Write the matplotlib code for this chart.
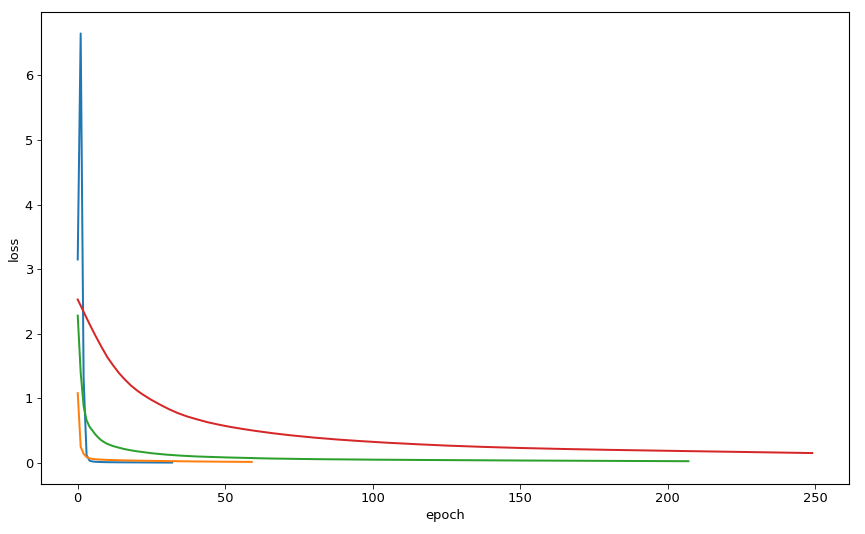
import matplotlib
matplotlib.use("Agg")
import matplotlib.pyplot as plt

# loss curves (sparse epochs, lines join the points)
blue_epoch = [0, 1, 2, 3, 4, 5, 6, 8, 10, 14, 18, 22, 26, 32]
blue_loss = [3.15, 6.65, 1.30, 0.12, 0.035, 0.022, 0.017, 0.013, 0.011, 0.009, 0.008, 0.007, 0.006, 0.005]

orange_epoch = [0, 1, 2, 3, 4, 5, 6, 8, 10, 15, 20, 30, 40, 50, 59]
orange_loss = [1.08, 0.25, 0.14, 0.09, 0.07, 0.062, 0.056, 0.05, 0.046, 0.04, 0.035, 0.028, 0.022, 0.018, 0.015]

green_epoch = [0, 1, 2, 3, 4, 5, 6, 7, 8, 9, 10, 12, 14, 16, 18, 20, 25, 30,
               35, 40, 50, 65, 80, 100, 125, 150, 175, 207]
green_loss = [2.28, 1.40, 0.88, 0.66, 0.56, 0.50, 0.44, 0.39, 0.35, 0.32, 0.295,
              0.26, 0.235, 0.212, 0.195, 0.18, 0.15, 0.128, 0.112, 0.10, 0.085,
              0.068, 0.058, 0.05, 0.043, 0.037, 0.032, 0.026]

red_epoch = [0, 2, 4, 6, 8, 10, 12, 14, 16, 18, 20, 22, 25, 28, 31, 34, 37,
             40, 44, 48, 52, 56, 60, 66, 72, 80, 88, 96, 105, 115, 125, 138,
             150, 165, 180, 195, 210, 230, 249]
red_loss = [2.53, 2.34, 2.15, 1.97, 1.80, 1.64, 1.51, 1.39, 1.29, 1.20, 1.125,
            1.06, 0.975, 0.90, 0.83, 0.77, 0.72, 0.68, 0.63, 0.59, 0.555, 0.525,
            0.497, 0.46, 0.428, 0.392, 0.362, 0.337, 0.312, 0.289, 0.268,
            0.247, 0.231, 0.215, 0.202, 0.191, 0.18, 0.166, 0.152]

plt.rcParams["font.size"] = 13
plt.rcParams["lines.linewidth"] = 2
plt.rcParams["xtick.major.size"] = 4.5
plt.rcParams["ytick.major.size"] = 4.5
plt.rcParams["axes.linewidth"] = 1.1

fig = plt.figure(figsize=(865 / 72, 534 / 72), dpi=72)
ax = fig.add_axes([0.0474, 0.0936, 0.9341, 0.8839])

ax.plot(blue_epoch, blue_loss, color="tab:blue")
ax.plot(orange_epoch, orange_loss, color="tab:orange")
ax.plot(green_epoch, green_loss, color="tab:green")
ax.plot(red_epoch, red_loss, color="tab:red")

ax.set_xlabel("epoch")
ax.set_ylabel("loss")

fig.savefig("out.png", dpi=72)
